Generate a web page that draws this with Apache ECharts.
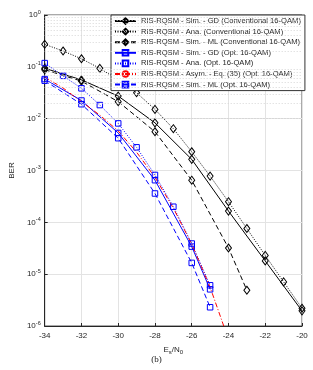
<!DOCTYPE html>
<html><head><meta charset="utf-8">
<script src="https://cdn.jsdelivr.net/npm/echarts@6/dist/echarts.min.js"></script>
<style>html,body{margin:0;padding:0;background:#fff}#c{width:313px;height:370px}</style>
</head><body><div id="c"></div>
<script>
// ---- data ----
const xTicks = [-34,-32,-30,-28,-26,-24,-22,-20];
const snrGdConv = [-34,-32,-30,-28,-26,-24,-22,-20];
const berGdConv = [0.094,0.056,0.0273,0.0083,0.00164,1.65e-4,1.8e-5,1.96e-6];
const snrAnaConv = [-34,-33,-32,-31,-30,-29,-28,-27,-26,-25,-24,-23,-22,-21,-20];
const berAnaConv = [0.272,0.202,0.143,0.0935,0.056,0.0316,0.0151,0.0064,0.0023,7.8e-4,2.5e-4,7.6e-5,2.3e-5,7.1e-6,2.2e-6];
const snrMlConv = [-34,-32,-30,-28,-26,-24,-23];
const berMlConv = [0.088,0.053,0.0213,0.0056,6.5e-4,3.2e-5,4.9e-6];
const snrGdOpt = [-34,-32,-30,-28,-26,-25];
const berGdOpt = [0.058,0.0224,0.0053,6.5e-4,3.4e-5,5.1e-6];
const snrAnaOpt = [-34,-33,-32,-31,-30,-29,-28,-27,-26,-25];
const berAnaOpt = [0.118,0.067,0.0385,0.0183,0.0081,0.0028,8.2e-4,2.0e-4,3.9e-5,6.1e-6];
const snrAsym = [-34,-33,-32,-31,-30,-29,-28,-27,-26,-25,-24];
const berAsym = [0.0635,0.039,0.0213,0.0117,0.0058,0.00226,7.4e-4,1.88e-4,3.8e-5,5.6e-6,5.5e-7];
const snrMlOpt = [-34,-32,-30,-28,-26,-25];
const berMlOpt = [0.054,0.019,0.0042,3.6e-4,1.65e-5,2.3e-6];
const names = [
  'RIS-RQSM - Sim. - GD (Conventional 16-QAM)',
  'RIS-RQSM - Ana. (Conventional 16-QAM)',
  'RIS-RQSM - Sim. - ML (Conventional 16-QAM)',
  'RIS-RQSM - Sim. - GD (Opt. 16-QAM)',
  'RIS-RQSM - Ana. (Opt. 16-QAM)',
  'RIS-RQSM - Asym. - Eq. (35) (Opt. 16-QAM)',
  'RIS-RQSM - Sim. - ML (Opt. 16-QAM)'
];

const zip = (a,b) => a.map((v,i)=>[v,b[i]]);
const minorLines = [];
for (let e=-6; e<0; e++) for (let k=2; k<=9; k++) minorLines.push({yAxis: k*Math.pow(10,e)});

const FONT = 'Liberation Sans, Arial, sans-serif';
const TXT = '#262626';
function ser(name, x, y, color, type, symbol, size){
  return {
    name, type:'line', data: zip(x,y), z:3,
    symbol: symbol, symbolSize: size, showSymbol: symbol!=='none',
    lineStyle:{color, width:1, type},
    itemStyle:{color:'rgba(0,0,0,0)', borderColor:color, borderWidth:1},
    emphasis:{disabled:true}, animation:false, clip:true
  };
}
const DIA=[6,8], SQ=5.5;
const chart = echarts.init(document.getElementById('c'), null, {renderer:'canvas'});
chart.setOption({
  animation:false,
  backgroundColor:'#fff',
  grid:{left:39, right:11, top:15, bottom:44, show:true, borderColor:'#555', borderWidth:1, backgroundColor:'#fff'},
  xAxis:{
    type:'value', min:-34, max:-20, interval:2,
    axisLine:{show:true, lineStyle:{color:'#262626', width:1}},
    axisTick:{show:true, inside:true, length:3, lineStyle:{color:'#262626'}},
    axisLabel:{color:TXT, fontSize:8, fontFamily:FONT, margin:6, formatter: v => xTicks.includes(v) ? String(v) : ''},
    splitLine:{show:true, lineStyle:{color:'#e3e3e3', width:1}},
    name:'E{sub|s}/N{sub|0}', nameLocation:'middle', nameGap:18,
    nameTextStyle:{color:TXT, fontSize:8, fontFamily:FONT, rich:{sub:{fontSize:6, fontFamily:FONT, color:TXT, padding:[5,0,0,0]}}}
  },
  yAxis:{
    type:'log', logBase:10, min:1e-6, max:1,
    axisLine:{show:true, lineStyle:{color:'#262626', width:1}},
    axisTick:{show:true, inside:true, length:3, lineStyle:{color:'#262626'}},
    axisLabel:{color:TXT, fontSize:8, fontFamily:FONT, margin:4,
      formatter: v => '10{sup|' + Math.round(Math.log10(v)) + '}',
      rich:{sup:{fontSize:5.5, fontFamily:FONT, color:TXT, padding:[0,0,6,0]}}},
    splitLine:{show:true, lineStyle:{color:'#e3e3e3', width:1}},
    name:'BER', nameLocation:'middle', nameGap:23,
    nameTextStyle:{color:TXT, fontSize:8, fontFamily:FONT}
  },
  legend:{
    orient:'vertical', left:111, top:15,
    backgroundColor:'#fff', borderColor:'#333', borderWidth:1,
    padding:[2,4,2,3], itemWidth:21, itemHeight:7, itemGap:2.6,
    textStyle:{color:TXT, fontSize:7.6, fontFamily:FONT, lineHeight:8},
    data:names
  },
  graphic:[{type:'text', left:'center', top:355, style:{text:'(b)', font:'9px "Liberation Serif", serif', fill:'#222'}}],
  series:[
    {type:'line', data:[], z:1, silent:true, markLine:{silent:true, symbol:'none', label:{show:false}, animation:false,
      lineStyle:{color:'#d6d6d6', type:[1,2], width:1}, data:minorLines}},
    ser(names[0], snrGdConv, berGdConv, '#000', 'solid', 'diamond', DIA),
    ser(names[1], snrAnaConv, berAnaConv, '#000', [1,1.5], 'diamond', DIA),
    ser(names[2], snrMlConv, berMlConv, '#000', [5,3], 'diamond', DIA),
    ser(names[3], snrGdOpt, berGdOpt, '#0000ff', 'solid', 'rect', SQ),
    ser(names[4], snrAnaOpt, berAnaOpt, '#0000ff', [1,1.5], 'rect', SQ),
    ser(names[5], snrAsym, berAsym, '#ff0000', [5,2,1,2], 'none', 1),
    ser(names[6], snrMlOpt, berMlOpt, '#0000ff', [5,3], 'rect', SQ)
  ]
});
</script></body></html>
